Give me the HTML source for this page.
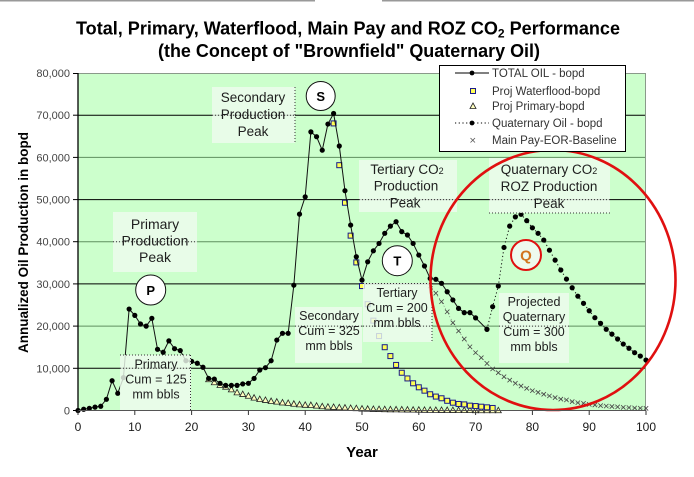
<!DOCTYPE html>
<html><head><meta charset="utf-8">
<style>
html,body{margin:0;padding:0;background:#fff;}
svg{display:block;font-family:"Liberation Sans",Arial,sans-serif;}
</style></head><body>
<svg id="c" width="694" height="477" viewBox="0 0 694 477" xmlns="http://www.w3.org/2000/svg">
<rect width="694" height="477" fill="#fff"/>
<line x1="0" y1="0.5" x2="315" y2="0.5" stroke="#999" stroke-width="2"/>
<line x1="382" y1="0.5" x2="694" y2="0.5" stroke="#999" stroke-width="2"/>

<!-- Title -->
<text x="76" y="34.5" font-size="18" font-weight="bold" fill="#000" textLength="544" lengthAdjust="spacingAndGlyphs">Total, Primary, Waterflood, Main Pay and ROZ CO<tspan font-size="12" dy="3">2</tspan><tspan dy="-3"> Performance</tspan></text>
<text x="158" y="57" font-size="18" font-weight="bold" fill="#000" textLength="382" lengthAdjust="spacingAndGlyphs">(the Concept of "Brownfield" Quaternary Oil)</text>

<!-- Plot area -->
<rect x="78" y="73" width="568" height="337.5" fill="#ccffcc"/>
<g stroke-width="1">
<line x1="78" y1="368.3" x2="646" y2="368.3" stroke="#000"/>
<line x1="78" y1="326.1" x2="646" y2="326.1" stroke="#5f8f5f"/>
<line x1="78" y1="283.9" x2="646" y2="283.9" stroke="#000"/>
<line x1="78" y1="241.7" x2="646" y2="241.7" stroke="#5f8f5f"/>
<line x1="78" y1="199.6" x2="646" y2="199.6" stroke="#000"/>
<line x1="78" y1="157.4" x2="646" y2="157.4" stroke="#5f8f5f"/>
<line x1="78" y1="115.2" x2="646" y2="115.2" stroke="#000"/>
<line x1="78" y1="73.5" x2="646" y2="73.5" stroke="#8a9a8a"/>
<line x1="645.5" y1="73" x2="645.5" y2="410.5" stroke="#8a9a8a"/>
</g>

<g id="data"></g>

<!-- Annotation boxes -->
<g fill="rgb(238,251,238)" fill-opacity="0.82">
<rect x="113" y="212" width="84" height="60"/>
<rect x="212" y="87" width="83" height="56"/>
<rect x="359" y="160" width="98" height="52"/>
<rect x="489" y="158" width="121" height="55"/>
<rect x="120" y="355" width="71" height="55"/>
<rect x="295" y="307" width="67" height="56"/>
<rect x="363" y="283" width="69" height="59"/>
<rect x="499" y="293" width="70" height="70"/>
</g>
<g id="dots" stroke="#333" stroke-width="1" stroke-dasharray="1,2" fill="none">
<line x1="113" y1="241.7" x2="197" y2="241.7"/>
<line x1="212" y1="115.2" x2="295" y2="115.2"/>
<line x1="295" y1="87" x2="295" y2="143"/>
<line x1="359" y1="199.6" x2="457" y2="199.6"/>
<line x1="489" y1="199.6" x2="610" y2="199.6"/>
<line x1="489" y1="213" x2="610" y2="213"/>
<line x1="120" y1="355" x2="191" y2="355"/>
<line x1="190.5" y1="355" x2="190.5" y2="410"/>
<line x1="120" y1="368.3" x2="191" y2="368.3"/>
<line x1="295" y1="326.1" x2="362" y2="326.1"/>
<line x1="363" y1="283.5" x2="432" y2="283.5"/>
<line x1="432" y1="283" x2="432" y2="342"/>
<line x1="363" y1="326.1" x2="432" y2="326.1"/>
<line x1="499" y1="326.1" x2="569" y2="326.1"/>
</g>

<!-- Annotation text -->
<g fill="#1e1e1e" text-anchor="middle" font-size="14">
<text x="155" y="229">Primary</text>
<text x="155" y="245.5">Production</text>
<text x="155" y="262">Peak</text>
<text x="253" y="102" font-size="13.5">Secondary</text>
<text x="253" y="119" font-size="13.5">Production</text>
<text x="253" y="136" font-size="13.5">Peak</text>
<text x="407" y="174" font-size="13.5">Tertiary CO<tspan font-size="9" dy="0">2</tspan></text>
<text x="406" y="190.5" font-size="13.5">Production</text>
<text x="405" y="207.5" font-size="13.5">Peak</text>
<text x="549" y="174" font-size="13.5">Quaternary CO<tspan font-size="9">2</tspan></text>
<text x="549" y="191" font-size="13.5">ROZ Production</text>
<text x="549" y="208" font-size="13.5">Peak</text>
</g>
<g fill="#1e1e1e" text-anchor="middle" font-size="12.5">
<text x="156" y="368.5">Primary</text>
<text x="156" y="383.5">Cum = 125</text>
<text x="156" y="398.5">mm bbls</text>
<text x="329" y="320">Secondary</text>
<text x="329" y="335">Cum = 325</text>
<text x="329" y="350">mm bbls</text>
<text x="397" y="297">Tertiary</text>
<text x="397" y="312">Cum = 200</text>
<text x="397" y="327">mm bbls</text>
<text x="534" y="306">Projected</text>
<text x="534" y="321">Quaternary</text>
<text x="534" y="336">Cum = 300</text>
<text x="534" y="351">mm bbls</text>
</g>

<!-- Circles -->
<circle cx="150.7" cy="290" r="15" fill="#fff" stroke="#111" stroke-width="1"/>
<text x="150.7" y="295" font-size="13" font-weight="bold" text-anchor="middle">P</text>
<circle cx="320.7" cy="96" r="14.5" fill="#fff" stroke="#111" stroke-width="1"/>
<text x="320.7" y="101" font-size="13" font-weight="bold" text-anchor="middle">S</text>
<circle cx="397.3" cy="260.7" r="15" fill="#fff" stroke="#111" stroke-width="1"/>
<text x="397.3" y="265.7" font-size="13" font-weight="bold" text-anchor="middle">T</text>
<circle cx="526" cy="255" r="15" fill="#eefaee" stroke="#e01010" stroke-width="2"/>
<text x="526" y="260.5" font-size="15" font-weight="bold" text-anchor="middle" fill="#d2751e">Q</text>

<!-- Big red ellipse -->
<ellipse cx="553" cy="280" rx="122.5" ry="130" fill="none" stroke="#e01010" stroke-width="2.6"/>

<!-- Axes -->
<line x1="78" y1="410.5" x2="646" y2="410.5" stroke="#555" stroke-width="1"/>
<line x1="78" y1="73" x2="78" y2="411" stroke="#000" stroke-width="1.3"/>
<g stroke="#000" stroke-width="1">
<line x1="73" y1="410.5" x2="78" y2="410.5"/>
<line x1="73" y1="368.3" x2="78" y2="368.3"/>
<line x1="73" y1="326.1" x2="78" y2="326.1"/>
<line x1="73" y1="283.9" x2="78" y2="283.9"/>
<line x1="73" y1="241.7" x2="78" y2="241.7"/>
<line x1="73" y1="199.6" x2="78" y2="199.6"/>
<line x1="73" y1="157.4" x2="78" y2="157.4"/>
<line x1="73" y1="115.2" x2="78" y2="115.2"/>
<line x1="73" y1="73.5" x2="78" y2="73.5"/>
</g>
<g stroke="#333" stroke-width="1">
<line x1="78" y1="410.5" x2="78" y2="415"/>
<line x1="134.8" y1="410.5" x2="134.8" y2="415"/>
<line x1="191.6" y1="410.5" x2="191.6" y2="415"/>
<line x1="248.4" y1="410.5" x2="248.4" y2="415"/>
<line x1="305.2" y1="410.5" x2="305.2" y2="415"/>
<line x1="362" y1="410.5" x2="362" y2="415"/>
<line x1="418.8" y1="410.5" x2="418.8" y2="415"/>
<line x1="475.6" y1="410.5" x2="475.6" y2="415"/>
<line x1="532.4" y1="410.5" x2="532.4" y2="415"/>
<line x1="589.2" y1="410.5" x2="589.2" y2="415"/>
<line x1="646" y1="410.5" x2="646" y2="415"/>
</g>
<g font-size="11" fill="#444" text-anchor="end">
<text x="70" y="414.5">0</text>
<text x="70" y="372.3">10,000</text>
<text x="70" y="330.1">20,000</text>
<text x="70" y="287.9">30,000</text>
<text x="70" y="245.7">40,000</text>
<text x="70" y="203.6">50,000</text>
<text x="70" y="161.4">60,000</text>
<text x="70" y="119.2">70,000</text>
<text x="70" y="77">80,000</text>
</g>
<g font-size="12" fill="#1a1a1a" text-anchor="middle">
<text x="78" y="431">0</text>
<text x="134.8" y="431">10</text>
<text x="191.6" y="431">20</text>
<text x="248.4" y="431">30</text>
<text x="305.2" y="431">40</text>
<text x="362" y="431">50</text>
<text x="418.8" y="431">60</text>
<text x="475.6" y="431">70</text>
<text x="532.4" y="431">80</text>
<text x="589.2" y="431">90</text>
<text x="646" y="431">100</text>
</g>
<text x="362" y="457" font-size="15" font-weight="bold" text-anchor="middle">Year</text>
<text transform="translate(28,242.5) rotate(-90)" text-anchor="middle" font-size="14" font-weight="bold" textLength="221" lengthAdjust="spacingAndGlyphs">Annualized Oil Production in bopd</text>

<!-- Legend -->
<rect x="439.5" y="65.5" width="186" height="86" fill="#fff" stroke="#000" stroke-width="1"/>
<line x1="455" y1="73" x2="489" y2="73" stroke="#000" stroke-width="1"/>
<circle cx="472" cy="73" r="2.4" fill="#000"/>
<rect x="470.5" y="88.5" width="5" height="5" fill="#ffff55" stroke="#1a1a8a" stroke-width="1"/>
<polygon points="473,103 476,108.5 470,108.5" fill="#ffffc0" stroke="#222" stroke-width="0.8"/>
<line x1="455" y1="123" x2="489" y2="123" stroke="#000" stroke-width="1" stroke-dasharray="1.2,2.5"/>
<circle cx="472" cy="123" r="2.4" fill="#000"/>
<g stroke="#555" stroke-width="0.8"><line x1="470.5" y1="138" x2="475" y2="142.5"/><line x1="475" y1="138" x2="470.5" y2="142.5"/></g>
<g font-size="11.5" fill="#333">
<text x="492" y="77">TOTAL OIL - bopd</text>
<text x="492" y="95">Proj Waterflood-bopd</text>
<text x="492" y="110">Proj Primary-bopd</text>
<text x="492" y="127">Quaternary Oil - bopd</text>
<text x="492" y="144">Main Pay-EOR-Baseline</text>
</g>
</svg>
<script>
(function(){
const NS="http://www.w3.org/2000/svg";
const g=document.getElementById('data');
function el(n,a){const e=document.createElementNS(NS,n);for(const k in a)e.setAttribute(k,a[k]);g.appendChild(e);return e;}
const X=y=>78+y*5.68, Y=v=>410.5-v*0.0042187;
const total=[0,300,500,800,1000,2650,7060,4070,7800,24050,22550,20500,20000,21850,14500,13800,16500,14650,14200,11800,11650,11200,10250,7600,7450,6450,5950,5950,5950,6300,6450,7600,9600,10150,11800,16700,18300,18300,29700,46550,50650,66050,64900,61700,67900,70400,62700,52100,43950,36450,30900,35250,37850,39600,42000,43700,44750,42400,41600,39600,36850,34250,31300,31100,30150,28150,26200,24200,23200,23200,21950,null,19250];
const quat={72:19250,73:24600,74:29500,75:38650,76:43700,77:45900,78:46500,79:45000,80:43300,81:42000,82:40400,83:38000,84:35650,85:33300,86:31150,87:29100,88:27100,89:25400,90:23650,91:22000,92:20650,93:19250,94:18100,95:16950,96:15750,97:14750,98:13700,99:12900,100:11950};
const wf={45:68050,46:58150,47:49250,48:41450,49:35100,50:29500,51:25200,52:21300,53:17650,54:15000,55:12900,56:10800,57:8950,58:7600,59:6450,60:5500,61:4700,62:3850,63:3300,64:2900,65:2300,66:1850,67:1550,68:1450,69:1150,70:1050,71:900,72:750,73:600};
const prim={23:7400,24:6700,25:6050,26:5650,27:5000,28:4300,29:3900,30:3500,31:3050,32:2700,33:2500,34:2250,35:2100,36:1900,37:1800,38:1600,39:1450,40:1350,41:1300,42:1150,43:1000,44:900,45:850,46:750,47:700,48:600,49:550,50:450};
for(let y=51;y<=74;y++)prim[y]=Math.round(450*Math.exp(-(y-50)*0.09));
const mp={62:29500,63:27800,64:25800,65:23400,66:20800,67:18850,68:16950,69:15100,70:13700,71:12500,72:11150,73:9850,74:8950,75:8000,76:7200,77:6450,78:5800,79:5250,80:4700,81:4300,82:3850,83:3450,84:3050,85:2700,86:2500,87:2100,88:1850,89:1700,90:1450,91:1300,92:1150,93:1050,94:950,95:850,96:750,97:700,98:600,99:550,100:500};
// primary triangles
for(const k in prim){const x=X(+k),y=Y(prim[k]);el('polygon',{points:`${x},${y-3} ${x+3},${y+2.5} ${x-3},${y+2.5}`,fill:'#ffffc0',stroke:'#222','stroke-width':0.8});}
// main pay
let pts=[];for(const k in mp)pts.push(X(+k)+','+Y(mp[k]));
el('polyline',{points:pts.join(' '),fill:'none',stroke:'#666','stroke-width':0.6,'stroke-dasharray':'1,2'});
for(const k in mp){const x=X(+k),y=Y(mp[k]);el('path',{d:`M${x-2.2},${y-2.2}L${x+2.2},${y+2.2}M${x+2.2},${y-2.2}L${x-2.2},${y+2.2}`,stroke:'#444','stroke-width':0.8,fill:'none'});}
// waterflood squares
for(const k in wf){const x=X(+k),y=Y(wf[k]);el('rect',{x:x-2.5,y:y-2.5,width:5,height:5,fill:'#ffff55',stroke:'#1a1a8a','stroke-width':1});}
// total line
pts=[];total.forEach((v,i)=>{if(v!==null)pts.push(X(i)+','+Y(v));});
el('polyline',{points:pts.join(' '),fill:'none',stroke:'#111','stroke-width':1});
total.forEach((v,i)=>{if(v!==null)el('circle',{cx:X(i),cy:Y(v),r:2.6,fill:'#000'});});
// quaternary
pts=[];for(const k in quat)pts.push(X(+k)+','+Y(quat[k]));
el('polyline',{points:pts.join(' '),fill:'none',stroke:'#111','stroke-width':1,'stroke-dasharray':'1.2,2.5'});
for(const k in quat)el('circle',{cx:X(+k),cy:Y(quat[k]),r:2.6,fill:'#000'});
})();
</script>
</body></html>
